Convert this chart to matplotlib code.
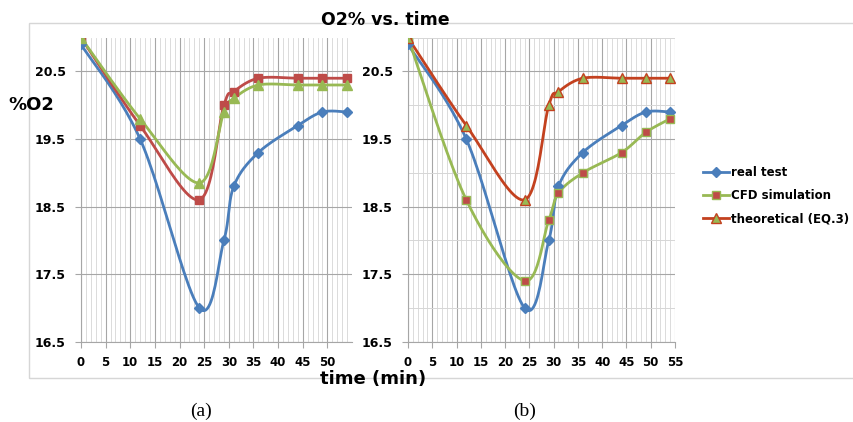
import numpy as np
import matplotlib
matplotlib.use("Agg")
import matplotlib.pyplot as plt
from matplotlib.lines import Line2D
from matplotlib.patches import Rectangle

# data
time = [0, 12, 24, 29, 31, 36, 44, 49, 54]
a_real = [20.9, 19.5, 17.0, 18.0, 18.8, 19.3, 19.7, 19.9, 19.9]
a_cfd = [21.0, 19.7, 18.6, 20.0, 20.2, 20.4, 20.4, 20.4, 20.4]
a_theory = [21.0, 19.8, 18.85, 19.9, 20.1, 20.3, 20.3, 20.3, 20.3]
b_real = [20.9, 19.5, 17.0, 18.0, 18.8, 19.3, 19.7, 19.9, 19.9]
b_cfd = [21.0, 18.6, 17.4, 18.3, 18.7, 19.0, 19.3, 19.6, 19.8]
b_theory = [21.0, 19.7, 18.6, 20.0, 20.2, 20.4, 20.4, 20.4, 20.4]
labels = ["real test", "CFD simulation", "theoretical (EQ.3)"]

BLUE = "#4A7EBB"
RED = "#BE4B48"
GREEN = "#98B954"
ORANGE = "#C3411F"


def smooth(x, y, n=24):
    """Excel-like smoothed line (cubic Bezier / Catmull-Rom through the points)."""
    x = np.asarray(x, float)
    y = np.asarray(y, float)
    px = np.concatenate([[x[0]], x, [x[-1]]])
    py = np.concatenate([[y[0]], y, [y[-1]]])
    t = np.linspace(0, 1, n)
    xs, ys = [], []
    for i in range(1, len(px) - 2):
        c1x = px[i] + (px[i + 1] - px[i - 1]) / 6
        c1y = py[i] + (py[i + 1] - py[i - 1]) / 6
        c2x = px[i + 1] - (px[i + 2] - px[i]) / 6
        c2y = py[i + 1] - (py[i + 2] - py[i]) / 6
        b0, b1, b2, b3 = (1 - t) ** 3, 3 * (1 - t) ** 2 * t, 3 * (1 - t) * t ** 2, t ** 3
        xs.append(b0 * px[i] + b1 * c1x + b2 * c2x + b3 * px[i + 1])
        ys.append(b0 * py[i] + b1 * c1y + b2 * c2y + b3 * py[i + 1])
    return np.concatenate(xs), np.concatenate(ys)


def series(ax, y, color, marker, ms, mfc, mec):
    sx, sy = smooth(time, y)
    ax.plot(sx, sy, color=color, lw=2, solid_capstyle="round", zorder=3)
    ax.plot(time, y, ls="none", marker=marker, ms=ms, mfc=mfc, mec=mec,
            mew=1, zorder=4, clip_on=True)


def style(ax, xmax, minor_h):
    ax.set_xlim(0, xmax)
    ax.set_ylim(16.5, 21.0)
    ax.set_xticks(np.arange(0, 51 if xmax < 55 else 56, 5))
    ax.set_xticks(np.arange(0, 56, 1), minor=True)
    ax.set_yticks([16.5, 17.5, 18.5, 19.5, 20.5])
    if minor_h:
        ax.set_yticks([17.0, 18.0, 19.0, 20.0, 21.0], minor=True)
    ax.grid(True, which="major", color="#A6A6A6", lw=0.8)
    ax.grid(True, which="minor", axis="x", color="#D6D6D6", lw=0.6)
    if minor_h:
        ax.grid(True, which="minor", axis="y", color="#D6D6D6", lw=0.7)
    ax.set_axisbelow(True)
    for s in ["top", "right"]:
        ax.spines[s].set_visible(False)
    for s in ["left", "bottom"]:
        ax.spines[s].set_color("#A6A6A6")
        ax.spines[s].set_linewidth(0.8)
    ax.tick_params(which="major", length=4, color="#A6A6A6", width=0.8)
    ax.tick_params(which="minor", length=0)
    ax.tick_params(axis="y", pad=7)
    ax.tick_params(axis="x", pad=6)
    for lab in ax.get_yticklabels():
        lab.set_fontweight("bold")
        lab.set_fontsize(9)
    for lab in ax.get_xticklabels():
        lab.set_fontweight("bold")
        lab.set_fontsize(8.5)


fig = plt.figure(figsize=(8.54, 4.22), dpi=100)
fig.patches.append(Rectangle((29 / 854, 1 - 378 / 422), 1.0, (378 - 22.7) / 422,
                             transform=fig.transFigure, fill=False,
                             ec="#D6D6D6", lw=1.0, zorder=0))

ax_a = fig.add_axes([81 / 854, 1 - 341.7 / 422, 271 / 854, 304 / 422])
ax_b = fig.add_axes([408 / 854, 1 - 341.7 / 422, 267 / 854, 304 / 422])

# panel (a)
series(ax_a, a_real, BLUE, "D", 5.5, BLUE, BLUE)
series(ax_a, a_cfd, RED, "s", 6, RED, RED)
series(ax_a, a_theory, GREEN, "^", 7, GREEN, GREEN)
style(ax_a, 52.9, False)

# panel (b)
series(ax_b, b_real, BLUE, "D", 5.5, BLUE, BLUE)
series(ax_b, b_cfd, GREEN, "s", 6, RED, GREEN)
series(ax_b, b_theory, ORANGE, "^", 7, GREEN, ORANGE)
style(ax_b, 55, True)

handles = [
    Line2D([], [], color=BLUE, lw=2, marker="D", ms=5.5, mfc=BLUE, mec=BLUE),
    Line2D([], [], color=GREEN, lw=2, marker="s", ms=6, mfc=RED, mec=GREEN),
    Line2D([], [], color=ORANGE, lw=2, marker="^", ms=7, mfc=GREEN, mec=ORANGE),
]
fig.legend(handles, labels, loc="upper left", bbox_to_anchor=(703 / 854, 1 - 166 / 422),
           frameon=False, borderpad=0, borderaxespad=0, handlelength=2.2,
           handletextpad=0.2, labelspacing=0.85,
           prop={"weight": "bold", "size": 8.5})

fig.text(385 / 854, 1 - 20 / 422, "O2% vs. time", ha="center", va="center",
         fontsize=12.5, fontweight="bold")
fig.text(31 / 854, 1 - 105 / 422, "%O2", ha="center", va="center",
         fontsize=13, fontweight="bold")
fig.text(373 / 854, 1 - 379 / 422, "time (min)", ha="center", va="center",
         fontsize=13, fontweight="bold")
fig.text(201 / 854, 1 - 411 / 422, "(a)", ha="center", va="center",
         fontsize=14, family="Liberation Serif")
fig.text(525 / 854, 1 - 411 / 422, "(b)", ha="center", va="center",
         fontsize=14, family="Liberation Serif")

fig.savefig("out.png", dpi=100)
